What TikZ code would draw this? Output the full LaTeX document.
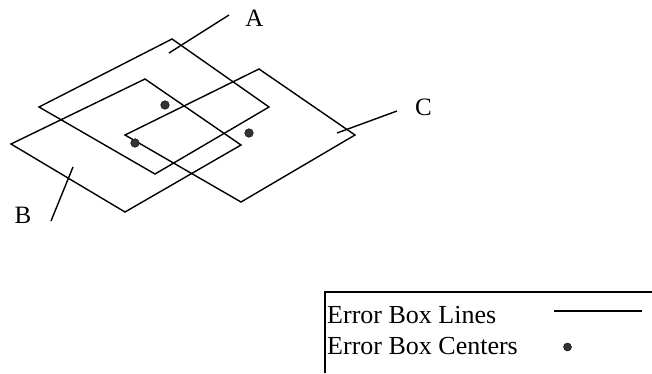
\documentclass[tikz,border=0pt]{standalone}
\usepackage{fontspec}
\setmainfont{Liberation Serif}
\usetikzlibrary{positioning,calc}
\definecolor{dotgray}{RGB}{52,52,52}
\tikzset{
  boxline/.style={
    draw=black,
    line width=1.4pt,
    line join=miter
  },
  leader/.style={draw=black, line width=1.4pt},
  tag/.style={
    font=\fontsize{25}{30}\selectfont,
    inner sep=0pt
  },
  centre/.style={
    circle,
    fill=dotgray,
    draw=black,
    line width=0.4pt,
    inner sep=0pt,
    minimum size=8.6pt
  },
  legendtext/.style={
    font=\fontsize{26}{31}\selectfont,
    anchor=base west,
    inner sep=0pt
  },
  frame/.style={draw=black, line width=2pt}
}

\begin{document}
\begin{tikzpicture}[x=1pt,y=-1pt]
\useasboundingbox (0,0) rectangle (652,373);
% the three error boxes
\draw[boxline] (172,39) -- (269,107) -- (155,174) -- (39,107) -- cycle;
\draw[boxline] (145,79) -- (241,145) -- (125,212) -- (11,144) -- cycle;
\draw[boxline] (259,69) -- (355,135) -- (241,202) -- (125,135) -- cycle;
% box centres
\node[centre] (ca) at (165,105) {};
\node[centre] (cb) at (135,143) {};
\node[centre] (cc) at (249,133) {};
% labels and their leaders
\node[tag] (la) at (254.5,18.5) {A};
\node[tag] (lb) at (23,215.5) {B};
\node[tag] (lc) at (423.5,107.5) {C};
\coordinate (a1) at (169,53);
\coordinate (a2) at (229,15);
\coordinate (b1) at (73,167);
\coordinate (b2) at (51,221);
\coordinate (c1) at (337,133);
\coordinate (c2) at (397,111);
\draw[leader] (a1) -- (a2);
\draw[leader] (b1) -- (b2);
\draw[leader] (c1) -- (c2);
% legend
\coordinate (corner) at (325,292);
\draw[frame] (325,373) -- (corner) -- (652,292);
\node[legendtext] (lines) at (327,323) {Error Box Lines};
\node[legendtext] (centers) at (327,354) {Error Box Centers};
\coordinate (s1) at (554,311);
\coordinate (s2) at (642,311);
\draw[frame] (s1) -- (s2);
\node[centre, minimum size=8pt] (sample) at (567.5,347) {};
\end{tikzpicture}
\end{document}
